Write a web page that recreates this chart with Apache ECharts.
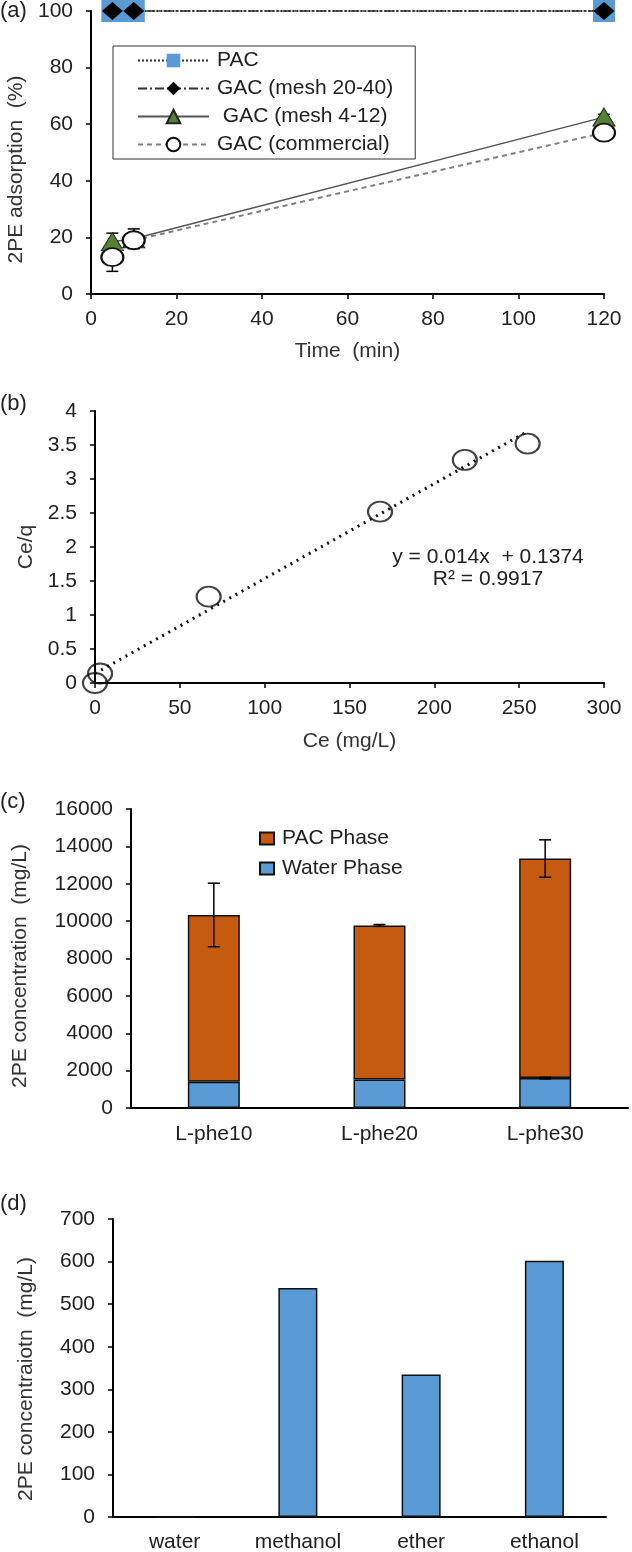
<!DOCTYPE html>
<html>
<head>
<meta charset="utf-8">
<script src="https://cdn.jsdelivr.net/npm/echarts@6/dist/echarts.min.js"></script>
<style>
  html, body { margin: 0; padding: 0; background: #fff; }
  #chart { width: 632px; height: 1552px; }
</style>
</head>
<body>
<div id="chart"></div>
<script>
  // (a) adsorption over time
  const timeMin = [5, 10, 120];
  const pacAds = [100, 100, 100];
  const gac2040Ads = [100, 100, 100];
  const gac412Ads = [18.5, 19.5, 62.5];
  const gac412Err = [3, 3.5, 1];
  const gacCommAds = [13, 19, 57];
  const gacCommErr = [5, 2, 1];

  // (b) Langmuir linear plot
  const ceVals = [0, 3, 67, 168, 218, 255];
  const ceqVals = [0, 0.14, 1.27, 2.52, 3.28, 3.52];
  const fitCe = [0, 255];
  const fitCeq = [0.14, 3.7];

  // (c) phase distribution
  const pheCats = ['L-phe10', 'L-phe20', 'L-phe30'];
  const waterPhase = [1400, 1520, 1600];
  const pacPhase = [8930, 8250, 11750];
  const totalErr = [1700, 50, 1000];
  const waterErr = [0, 0, 40];

  // (d) desorption solvents
  const solvents = ['water', 'methanol', 'ether', 'ethanol'];
  const solventConc = [0, 538, 335, 602];

  const FONT = "'Liberation Sans', Arial, sans-serif";
  const txt = '#222';
  const FS = 21;

  const chart = echarts.init(document.getElementById('chart'));

  function axisBase(extra) {
    return Object.assign({
      axisLine: { show: true, onZero: false, lineStyle: { color: '#000', width: 2 } },
      axisTick: { show: true, inside: false, length: 5, lineStyle: { color: '#000', width: 1.5 } },
      splitLine: { show: false },
      axisLabel: { color: txt, fontSize: FS, fontFamily: FONT, margin: 15 },
      nameTextStyle: { color: '#333', fontSize: FS, fontFamily: FONT }
    }, extra);
  }

  function errBar(params, api) {
    const x = api.value(0), y = api.value(1), e = api.value(2);
    if (!e) return null;
    const hi = api.coord([x, y + e]);
    const lo = api.coord([x, y - e]);
    const w = 6;
    const st = { stroke: '#000', lineWidth: 1.5 };
    return {
      type: 'group',
      children: [
        { type: 'line', shape: { x1: hi[0], y1: hi[1], x2: lo[0], y2: lo[1] }, style: st },
        { type: 'line', shape: { x1: hi[0] - w, y1: hi[1], x2: hi[0] + w, y2: hi[1] }, style: st },
        { type: 'line', shape: { x1: lo[0] - w, y1: lo[1], x2: lo[0] + w, y2: lo[1] }, style: st }
      ]
    };
  }

  const zip = (xs, ys) => xs.map((x, i) => [x, ys[i]]);
  const totals = waterPhase.map((w, i) => w + pacPhase[i]);

  const option = {
    backgroundColor: '#fff',
    animation: false,
    textStyle: { fontFamily: FONT },
    grid: [
      { left: 91, top: 11, width: 513, height: 283, containLabel: false, outerBoundsMode: 'none' },
      { left: 95, top: 411, width: 509, height: 272, containLabel: false, outerBoundsMode: 'none' },
      { left: 131, top: 809, width: 497, height: 299, containLabel: false, outerBoundsMode: 'none' },
      { left: 113, top: 1219, width: 493, height: 298, containLabel: false, outerBoundsMode: 'none' }
    ],
    xAxis: [
      axisBase({ gridIndex: 0, type: 'value', min: 0, max: 120, interval: 20,
        name: 'Time  (min)', nameLocation: 'middle', nameGap: 47 }),
      axisBase({ gridIndex: 1, type: 'value', min: 0, max: 300, interval: 50,
        name: 'Ce (mg/L)', nameLocation: 'middle', nameGap: 48 }),
      axisBase({ gridIndex: 2, type: 'category', data: pheCats,
        axisTick: { show: false }, axisLabel: { color: txt, fontSize: FS, fontFamily: FONT, margin: 16, interval: 0 } }),
      axisBase({ gridIndex: 3, type: 'category', data: solvents,
        axisTick: { show: false }, axisLabel: { color: txt, fontSize: FS, fontFamily: FONT, margin: 15, interval: 0 } })
    ],
    yAxis: [
      axisBase({ gridIndex: 0, type: 'value', min: 0, max: 100, interval: 20,
        axisLabel: { color: txt, fontSize: FS, fontFamily: FONT, margin: 18 },
        name: '2PE adsorption  (%)', nameLocation: 'middle', nameGap: 58,
        nameTextStyle: { color: '#333', fontSize: FS, fontFamily: FONT, padding: [0, 34, 0, 0] } }),
      axisBase({ gridIndex: 1, type: 'value', min: 0, max: 4, interval: 0.5,
        axisLabel: { color: txt, fontSize: FS, fontFamily: FONT, margin: 18 },
        name: 'Ce/q', nameLocation: 'middle', nameGap: 55 }),
      axisBase({ gridIndex: 2, type: 'value', min: 0, max: 16000, interval: 2000,
        axisLabel: { color: txt, fontSize: FS, fontFamily: FONT, margin: 18, formatter: v => String(v) },
        name: '2PE concentration  (mg/L)', nameLocation: 'middle', nameGap: 100,
        nameTextStyle: { color: '#333', fontSize: FS, fontFamily: FONT, padding: [0, 15, 0, 0] } }),
      axisBase({ gridIndex: 3, type: 'value', min: 0, max: 700, interval: 100,
        axisLabel: { color: txt, fontSize: FS, fontFamily: FONT, margin: 18 },
        name: '2PE concentraiotn  (mg/L)', nameLocation: 'middle', nameGap: 76,
        nameTextStyle: { color: '#333', fontSize: FS, fontFamily: FONT, padding: [0, 22, 0, 0] } })
    ],
    legend: [
      {
        data: ['PAC', 'GAC (mesh 20-40)', ' GAC (mesh 4-12)', 'GAC (commercial)'],
        orient: 'vertical', left: 113, top: 46,
        padding: [4, 22, 4, 24], itemGap: 7,
        itemWidth: 71, itemHeight: 17,
        borderColor: '#333', borderWidth: 1, backgroundColor: '#fff',
        textStyle: { color: txt, fontSize: FS, fontFamily: FONT, padding: [0, 0, 0, 3] },
        selectedMode: false
      },
      {
        data: ['PAC Phase', 'Water Phase'],
        orient: 'vertical', left: 259, top: 828,
        padding: 0, itemGap: 9,
        itemWidth: 14, itemHeight: 12, icon: 'rect',
        textStyle: { color: txt, fontSize: FS, fontFamily: FONT, padding: [0, 0, 0, 3] },
        selectedMode: false
      }
    ],
    graphic: [
      { type: 'text', left: 0, top: 0, style: { text: '(a)', font: '22px ' + FONT, fill: txt } },
      { type: 'text', left: 0, top: 393, style: { text: '(b)', font: '22px ' + FONT, fill: txt } },
      { type: 'text', left: 0, top: 791, style: { text: '(c)', font: '22px ' + FONT, fill: txt } },
      { type: 'text', left: 0, top: 1193, style: { text: '(d)', font: '22px ' + FONT, fill: txt } },
      { type: 'text', x: 488, y: 557, style: { text: 'y = 0.014x  + 0.1374', font: FS + 'px ' + FONT, fill: txt, align: 'center', verticalAlign: 'middle' } },
      { type: 'text', x: 488, y: 579, style: { text: 'R\u00b2 = 0.9917', font: FS + 'px ' + FONT, fill: txt, align: 'center', verticalAlign: 'middle' } }
    ],
    series: [
      // ---- (a)
      {
        name: 'PAC', type: 'line', xAxisIndex: 0, yAxisIndex: 0,
        data: zip(timeMin, pacAds),
        symbol: 'rect', symbolSize: [22, 22],
        itemStyle: { color: '#5B9BD5' },
        lineStyle: { color: '#333', width: 2, type: 'dotted' },
        clip: false, z: 3
      },
      {
        name: 'GAC (mesh 20-40)', type: 'line', xAxisIndex: 0, yAxisIndex: 0,
        data: zip(timeMin, gac2040Ads),
        symbol: 'diamond', symbolSize: [21, 18],
        itemStyle: { color: '#000' },
        lineStyle: { color: '#333', width: 1.5, type: [9, 3, 2, 3] },
        clip: false, z: 4
      },
      {
        type: 'custom', xAxisIndex: 0, yAxisIndex: 0, renderItem: errBar,
        data: timeMin.map((t, i) => [t, gac412Ads[i], gac412Err[i]]), z: 2, silent: true
      },
      {
        type: 'custom', xAxisIndex: 0, yAxisIndex: 0, renderItem: errBar,
        data: timeMin.map((t, i) => [t, gacCommAds[i], gacCommErr[i]]), z: 2, silent: true
      },
      {
        name: ' GAC (mesh 4-12)', type: 'line', xAxisIndex: 0, yAxisIndex: 0,
        data: zip(timeMin, gac412Ads),
        symbol: 'triangle', symbolSize: [22, 18],
        itemStyle: { color: '#548235', borderColor: '#222', borderWidth: 1 },
        lineStyle: { color: '#555', width: 1.5, type: 'solid' },
        clip: false, z: 5
      },
      {
        name: 'GAC (commercial)', type: 'line', xAxisIndex: 0, yAxisIndex: 0,
        data: zip(timeMin, gacCommAds),
        symbol: 'circle', symbolSize: [22, 18],
        itemStyle: { color: '#fff', borderColor: '#111', borderWidth: 2 },
        lineStyle: { color: '#808080', width: 2, type: [5, 4] },
        clip: false, z: 6
      },
      // ---- (b)
      {
        type: 'line', xAxisIndex: 1, yAxisIndex: 1,
        data: zip(fitCe, fitCeq),
        symbol: 'none',
        lineStyle: { color: '#111', width: 3, type: [2, 5] }, z: 2
      },
      {
        type: 'scatter', xAxisIndex: 1, yAxisIndex: 1,
        data: zip(ceVals, ceqVals),
        symbol: 'circle', symbolSize: [24, 20],
        itemStyle: { color: 'rgba(255,255,255,0)', borderColor: '#111', borderWidth: 2 },
        clip: false, z: 3
      },
      // ---- (c)
      {
        name: 'Water Phase', type: 'bar', xAxisIndex: 2, yAxisIndex: 2, stack: 'phase',
        data: waterPhase, barWidth: 52,
        itemStyle: { color: '#5B9BD5', borderColor: '#111', borderWidth: 1.5 }
      },
      {
        name: 'PAC Phase', type: 'bar', xAxisIndex: 2, yAxisIndex: 2, stack: 'phase',
        data: pacPhase, barWidth: 52,
        itemStyle: { color: '#C55A11', borderColor: '#111', borderWidth: 1.5 }
      },
      {
        type: 'custom', xAxisIndex: 2, yAxisIndex: 2, renderItem: errBar,
        data: pheCats.map((c, i) => [i, totals[i], totalErr[i]]), z: 5, silent: true
      },
      {
        type: 'custom', xAxisIndex: 2, yAxisIndex: 2, renderItem: errBar,
        data: pheCats.map((c, i) => [i, waterPhase[i], waterErr[i]]), z: 5, silent: true
      },
      // ---- (d)
      {
        type: 'bar', xAxisIndex: 3, yAxisIndex: 3,
        data: solventConc, barWidth: 39,
        itemStyle: { color: '#5B9BD5', borderColor: '#111', borderWidth: 1.5 }
      }
    ]
  };

  chart.setOption(option);
</script>
</body>
</html>
